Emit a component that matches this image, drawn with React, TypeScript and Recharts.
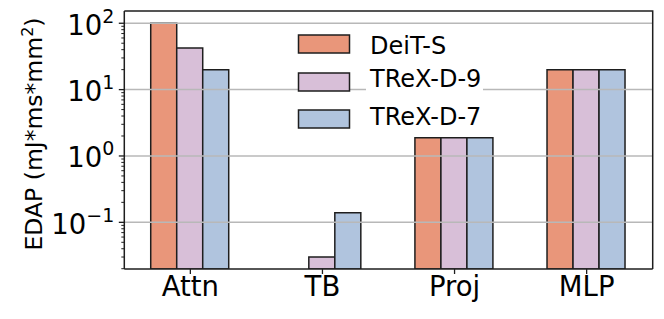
import React from 'react';
import { BarChart, Bar, XAxis, YAxis, ReferenceLine, Legend } from 'recharts';

const categories = ['Attn', 'TB', 'Proj', 'MLP'];
const deitS: (number | null)[] = [100, null, 1.88, 20];
const trexD9: (number | null)[] = [42.5, 0.03, 1.88, 20];
const trexD7: (number | null)[] = [20, 0.14, 1.88, 20];

const seriesNames = ['DeiT-S', 'TReX-D-9', 'TReX-D-7'];
const seriesColors = ['#E9967A', '#D8BFD8', '#B0C4DE'];

const majorTicks = [0.1, 1, 10, 100];
const minorMultipliers = [2, 3, 4, 5, 6, 7, 8, 9];
const minorDecades = [0.01, 0.1, 1, 10];
const yDomain = [0.0198, 153];

const minorTicks = minorDecades
  .flatMap((d) => minorMultipliers.map((m) => +(m * d).toPrecision(3)))
  .filter((v) => v >= yDomain[0] && v <= yDomain[1]);
const allTicks = [...minorTicks, ...majorTicks].sort((a, b) => a - b);

const data = categories.map((c, i) => ({
  cat: c,
  s0: deitS[i],
  s1: trexD9[i],
  s2: trexD7[i],
}));

const FONT = 'DejaVu Sans';
const EDGE = '#1e1e1e';

const W = 664;
const H = 319;
const MARGIN = { top: 11, right: 11.3, left: 0, bottom: 0 };
const Y_AXIS_W = 124.3;
const X_AXIS_H = 50;
const PLOT = {
  x: MARGIN.left + Y_AXIS_W,
  y: MARGIN.top,
  w: W - MARGIN.right - MARGIN.left - Y_AXIS_W,
  h: H - MARGIN.bottom - X_AXIS_H - MARGIN.top,
};

const YTick = (props: any) => {
  const { x, y, payload } = props;
  const v = payload.value;
  const lg = Math.log10(v);
  const e = Math.round(lg);
  const major = Math.abs(lg - e) < 1e-6;
  if (!major) {
    return <line x1={x - 3} x2={x} y1={y} y2={y} stroke={EDGE} strokeWidth={1} />;
  }
  const exp = e < 0 ? '\u2212' + Math.abs(e) : String(e);
  return (
    <g>
      <line x1={x - 5.5} x2={x} y1={y} y2={y} stroke={EDGE} strokeWidth={1.3} />
      <text x={x - 10} y={y + 11.5} textAnchor="end" fontFamily={FONT} fontSize={27.5} fill="#000">
        10
        <tspan dy={-12} fontSize={19}>{exp}</tspan>
      </text>
    </g>
  );
};

const XTick = (props: any) => {
  const { x, y, payload } = props;
  return (
    <text x={x} y={y + 22} textAnchor="middle" fontFamily={FONT} fontSize={27.5} fill="#000">
      {payload.value}
    </text>
  );
};

const renderLegend = (props: any) => {
  const items = [...(props.payload || [])].sort(
    (a: any, b: any) => seriesNames.indexOf(a.value) - seriesNames.indexOf(b.value)
  );
  const rowY = [35, 73, 110];
  const textY = [53.5, 87, 125];
  return (
    <svg width={W} height={H} style={{ display: 'block', overflow: 'visible' }}>
      <path
        d={`M${PLOT.x},${PLOT.y}H${PLOT.x + PLOT.w}V${PLOT.y + PLOT.h}`}
        fill="none"
        stroke={EDGE}
        strokeWidth={1.5}
      />
      <rect x={366} y={68} width={117} height={24} fill="#fff" />
      {items.map((it: any, i: number) => (
        <g key={i}>
          <rect x={298.5} y={rowY[i]} width={51} height={18} fill={it.color} stroke={EDGE} strokeWidth={1.5} />
          <text x={370} y={textY[i]} fontFamily={FONT} fontSize={24} fill="#000">
            {it.value}
          </text>
        </g>
      ))}
    </svg>
  );
};

export default function App() {
  return (
    <div style={{ position: 'fixed', left: 0, top: 0, width: W, height: H, background: '#fff' }}>
      <BarChart
        width={W}
        height={H}
        data={data}
        margin={MARGIN}
        barCategoryGap="20%"
        barGap={0}
      >
        <XAxis
          dataKey="cat"
          height={X_AXIS_H}
          tick={<XTick />}
          tickSize={5}
          tickMargin={0}
          tickLine={{ stroke: EDGE, strokeWidth: 1.3 }}
          axisLine={{ stroke: EDGE, strokeWidth: 1.5 }}
          interval={0}
        />
        <YAxis
          scale="log"
          domain={yDomain}
          allowDataOverflow
          ticks={allTicks}
          interval={0}
          width={Y_AXIS_W}
          tick={<YTick />}
          tickLine={false}
          tickSize={0}
          tickMargin={0}
          axisLine={{ stroke: EDGE, strokeWidth: 1.5 }}
          label={{
            value: 'EDAP (mJ*ms*mm\u00B2)',
            angle: -90,
            position: 'insideLeft',
            content: () => (
              <text
                x={42}
                y={134}
                transform="rotate(-90 42 134)"
                textAnchor="middle"
                fontFamily={FONT}
                fontSize={23.5}
                fill="#000"
              >
                EDAP (mJ*ms*mm
                <tspan dy={-9} fontSize={16}>2</tspan>
                <tspan dy={9}>)</tspan>
              </text>
            ),
          }}
        />
        {majorTicks.map((t) => (
          <ReferenceLine key={t} y={t} stroke="#b8b8b8" strokeWidth={1.5} />
        ))}
        <Legend
          layout="vertical"
          align="center"
          verticalAlign="middle"
          content={renderLegend}
          wrapperStyle={{ position: 'absolute', left: 0, top: 0, width: W, height: H, pointerEvents: 'none' }}
        />
        {['s0', 's1', 's2'].map((k, i) => (
          <Bar
            key={k}
            dataKey={k}
            name={seriesNames[i]}
            fill={seriesColors[i]}
            stroke={EDGE}
            strokeWidth={1.5}
            isAnimationActive={false}
          />
        ))}
      </BarChart>
    </div>
  );
}
